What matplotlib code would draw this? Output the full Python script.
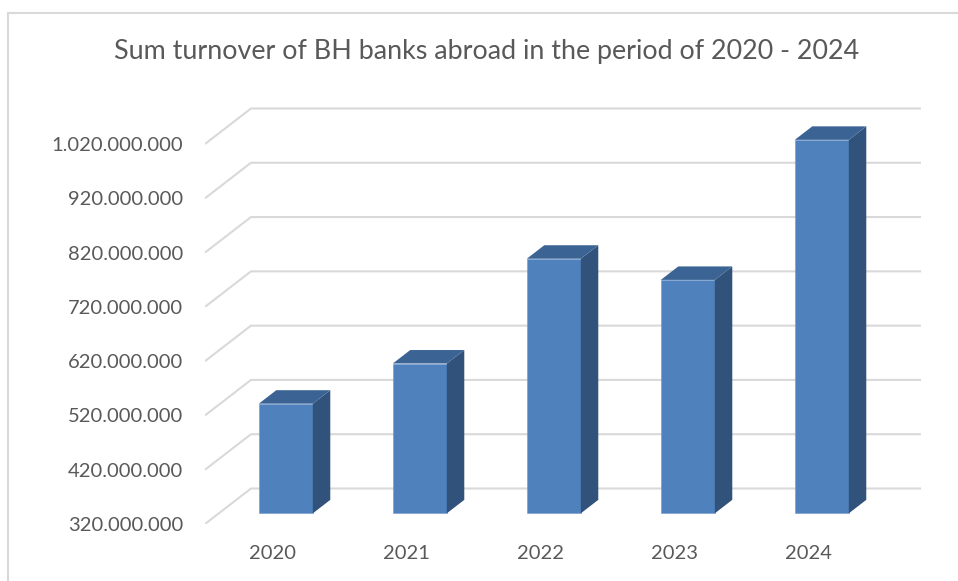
import matplotlib
matplotlib.use('Agg')
import matplotlib.pyplot as plt
from matplotlib.patches import Polygon
from matplotlib.lines import Line2D

# turnover per year (values read in units)
years = ['2020', '2021', '2022', '2023', '2024']
turnover = [522e6, 596e6, 789e6, 750e6, 1008e6]
yticks = [320e6, 420e6, 520e6, 620e6, 720e6, 820e6, 920e6, 1020e6]

plt.rcParams['font.family'] = ['Lato', 'DejaVu Sans']
TXT = '#595959'
GRID = '#d9d9d9'
FRONT = '#4f81bd'
SIDE = '#31527b'
TOP = '#3b6494'

W, H = 958, 581
fig = plt.figure(figsize=(W / 100, H / 100), dpi=100)

# axes placed in pixel terms: front plane spans x 205..875, y 524 is the floor
left, right, bottom, top = 205, 922, 524, 100
ax = fig.add_axes([left / W, 1 - bottom / H, (right - left) / W, (bottom - top) / H])
px_cat = 134.0            # pixels per category
px_val = 54.29 / 100e6    # pixels per unit value
ymin = yticks[0]
ax.set_xlim(-0.5, -0.5 + (right - left) / px_cat)
ax.set_ylim(ymin, ymin + (bottom - top) / px_val)

# depth of the 3d box, in data units
DX = 46 / px_cat
DY = 35.5 / px_val
n = len(years)

# gridlines: slanted floor stub on the left, then along the back wall
for v in yticks:
    ax.plot([-0.5, -0.5 + DX, n - 0.5 + DX], [v, v + DY, v + DY],
            color=GRID, lw=1.5, zorder=1, solid_capstyle='butt')

# bars as boxes sitting in the middle of the depth
F1 = 0.3      # depth position of the front face
BD = 0.38     # bar depth
BW = 54 / px_cat
for i, v in enumerate(turnover):
    x0 = i - BW / 2 + F1 * DX
    x1 = x0 + BW
    y0 = ymin + F1 * DY
    yt = v + F1 * DY
    ddx, ddy = BD * DX, BD * DY
    ax.bar(x0, yt - y0, width=BW, bottom=y0, align='edge', color=FRONT,
           edgecolor='#6f98cc', linewidth=0.4, zorder=3)
    ax.add_patch(Polygon([(x1, y0), (x1 + ddx, y0 + ddy), (x1 + ddx, yt + ddy), (x1, yt)],
                         closed=True, facecolor=SIDE, edgecolor='none', zorder=3))
    ax.add_patch(Polygon([(x0, yt), (x1, yt), (x1 + ddx, yt + ddy), (x0 + ddx, yt + ddy)],
                         closed=True, facecolor=TOP, edgecolor='none', zorder=3))

ax.set_yticks(yticks)
ax.set_yticklabels([f'{int(v):,}'.replace(',', '.') for v in yticks])
ax.set_xticks(range(n))
ax.set_xticklabels(years)
ax.tick_params(axis='y', length=0, pad=15.5, labelsize=14.5, labelcolor=TXT)
ax.tick_params(axis='x', length=0, pad=15, labelsize=14.5, labelcolor=TXT)
for s in ax.spines.values():
    s.set_visible(False)
ax.patch.set_alpha(0)

fig.text(487 / W, 1 - 52 / H, 'Sum turnover of BH banks abroad in the period of 2020 - 2024',
         ha='center', va='center', fontsize=19.4, color=TXT)

# chart frame
fig.add_artist(Line2D([8 / W, 8 / W], [0, 1 - 13 / H], color=GRID, lw=1.5))
fig.add_artist(Line2D([8 / W, 1], [1 - 13 / H, 1 - 13 / H], color=GRID, lw=1.5))

fig.savefig('out.png', dpi=100)
